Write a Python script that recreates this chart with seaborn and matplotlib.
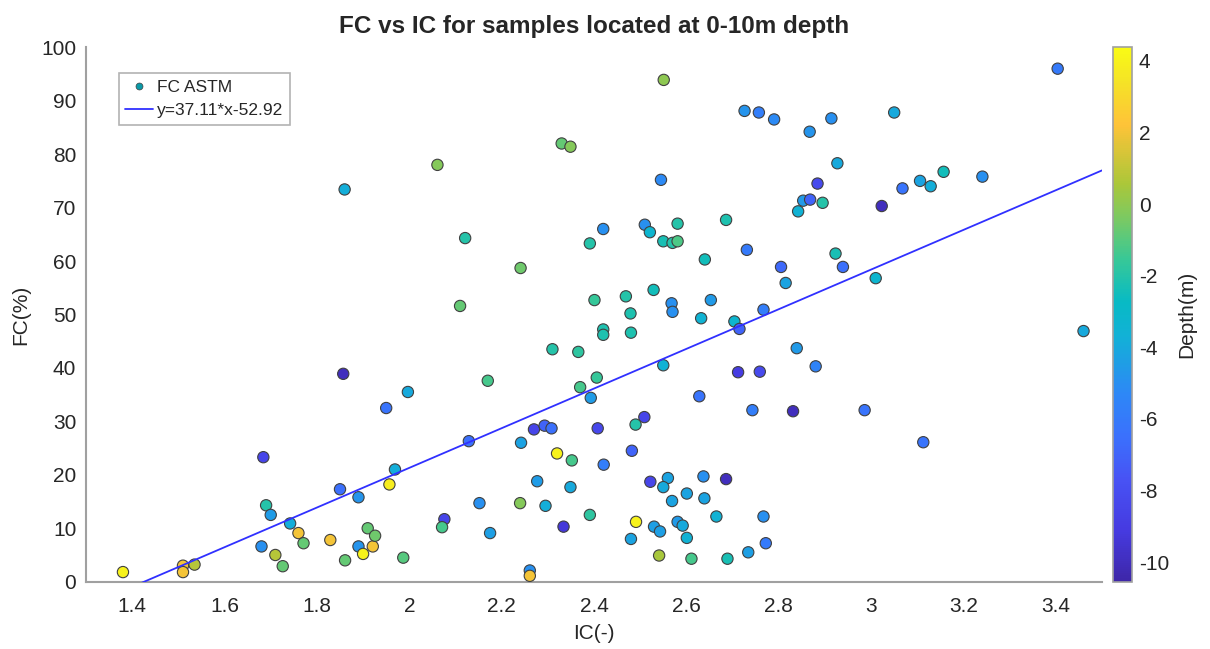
import numpy as np
import pandas as pd
import matplotlib
matplotlib.use("Agg")
import matplotlib.pyplot as plt
from matplotlib.colors import LinearSegmentedColormap, Normalize
from matplotlib.cm import ScalarMappable
from matplotlib.lines import Line2D
import seaborn as sns

# ---------------- data ----------------
ic = [1.38, 1.51, 1.51, 1.535, 1.684, 1.69, 1.70, 1.68, 1.71, 1.726,
      1.742, 1.76, 1.771, 1.829, 1.857, 1.85, 1.89, 1.861, 1.89, 1.90,
      1.921, 1.91, 1.926, 1.95, 1.969, 1.957, 1.86, 2.061, 2.33, 2.349,
      2.121, 2.42, 2.391, 2.241, 2.11, 2.401, 2.469, 2.479, 2.42, 2.42,
      2.48, 2.31, 2.366, 2.17, 1.997, 2.406, 2.37, 2.393, 2.129, 2.27,
      2.293, 2.308, 2.408, 2.242, 2.32, 2.352, 2.421, 2.509, 2.49, 2.482,
      2.277, 2.349, 2.152, 2.24, 2.295, 2.391, 2.076, 2.071, 2.334, 2.175,
      2.491, 2.48, 1.987, 2.261, 2.261, 2.551, 2.726, 2.757, 2.79, 2.914,
      2.867, 2.927, 2.545, 2.884, 2.853, 2.868, 2.895, 2.842, 3.023, 2.51,
      2.521, 2.581, 2.686, 2.55, 2.57, 2.581, 2.64, 2.731, 2.805, 2.939,
      2.923, 2.815, 3.01, 2.529, 2.568, 2.57, 2.653, 2.767, 2.632, 2.704,
      2.715, 2.839, 2.88, 2.55, 2.712, 2.759, 2.628, 2.743, 2.831, 2.986,
      2.522, 2.56, 2.55, 2.637, 2.686, 2.569, 2.601, 2.639, 2.665, 2.767,
      2.53, 2.543, 2.581, 2.592, 2.601, 2.541, 2.611, 2.689, 2.734, 2.772,
      3.404, 3.05, 3.241, 3.157, 3.106, 3.129, 3.068, 3.46, 3.113]

fc = [1.8, 3.0, 1.8, 3.2, 23.3, 14.3, 12.5, 6.6, 5.0, 2.9,
      10.9, 9.1, 7.2, 7.8, 38.9, 17.3, 15.8, 4.0, 6.6, 5.2,
      6.6, 10.0, 8.6, 32.5, 21.0, 18.2, 73.4, 78.0, 82.0, 81.4,
      64.3, 66.0, 63.3, 58.7, 51.6, 52.7, 53.4, 50.2, 47.2, 46.2,
      46.6, 43.5, 43.0, 37.6, 35.5, 38.2, 36.4, 34.4, 26.3, 28.5,
      29.2, 28.7, 28.7, 26.0, 24.0, 22.7, 21.9, 30.8, 29.4, 24.5,
      18.8, 17.7, 14.7, 14.7, 14.2, 12.5, 11.7, 10.2, 10.3, 9.1,
      11.2, 8.0, 4.5, 2.1, 1.1, 93.9, 88.1, 87.8, 86.5, 86.7,
      84.2, 78.3, 75.2, 74.5, 71.3, 71.5, 70.9, 69.3, 70.3, 66.8,
      65.4, 67.0, 67.7, 63.7, 63.4, 63.7, 60.3, 62.1, 58.9, 58.9,
      61.4, 55.9, 56.8, 54.6, 52.1, 50.5, 52.7, 50.9, 49.3, 48.7,
      47.3, 43.7, 40.3, 40.5, 39.2, 39.3, 34.7, 32.1, 31.9, 32.1,
      18.7, 19.4, 17.7, 19.7, 19.2, 15.1, 16.5, 15.6, 12.2, 12.2,
      10.3, 9.4, 11.2, 10.5, 8.2, 4.9, 4.3, 4.3, 5.5, 7.2,
      96.0, 87.8, 75.8, 76.7, 75.0, 74.0, 73.6, 46.9, 26.1]

depth = [4.0, 2.0, 2.0, 0.8, -8.5, -2.0, -4.5, -5.0, 0.8, -0.8,
         -3.8, 2.0, -0.8, 2.0, -10.0, -6.5, -4.8, -0.8, -4.8, 4.0,
         2.0, -0.8, -0.6, -6.3, -3.8, 3.8, -3.8, -0.2, -0.8, -0.2,
         -2.0, -5.0, -2.0, -0.6, -0.8, -1.6, -2.0, -2.2, -2.2, -2.2,
         -2.2, -2.0, -1.8, -1.3, -4.0, -1.6, -1.3, -4.5, -6.5, -8.5,
         -7.0, -6.5, -8.3, -4.3, 4.0, -1.3, -5.8, -8.5, -2.0, -7.0,
         -4.5, -4.0, -5.0, -0.2, -3.8, -1.8, -8.5, -1.3, -9.3, -4.4,
         4.0, -4.2, -1.0, -5.0, 2.0, 0.0, -4.8, -5.8, -5.2, -5.0,
         -4.8, -4.0, -5.2, -8.2, -4.6, -7.0, -2.0, -3.6, -10.0, -5.0,
         -3.3, -2.0, -2.2, -2.3, -2.0, -1.2, -2.5, -6.0, -6.8, -6.5,
         -2.3, -4.2, -3.3, -2.5, -5.0, -5.0, -4.6, -5.8, -3.5, -3.3,
         -7.0, -4.6, -5.5, -3.6, -9.0, -8.2, -6.3, -5.8, -10.0, -6.3,
         -8.5, -4.2, -4.0, -5.0, -10.0, -4.2, -4.2, -4.2, -3.6, -5.0,
         -4.4, -4.4, -4.6, -4.0, -3.6, 0.5, -1.3, -2.3, -4.4, -6.0,
         -6.0, -4.0, -5.0, -2.5, -4.2, -3.8, -6.3, -4.0, -6.3]

fit_slope = 37.11
fit_intercept = -52.92
fit_label = "y=37.11*x-52.92"
series_label = "FC ASTM"
title = "FC vs IC for samples located at 0-10m depth"
x_label = "IC(-)"
y_label = "FC(%)"
cbar_label = "Depth(m)"
x_ticks = [1.4, 1.6, 1.8, 2.0, 2.2, 2.4, 2.6, 2.8, 3.0, 3.2, 3.4]
x_ticklabels = ["1.4", "1.6", "1.8", "2", "2.2", "2.4", "2.6", "2.8", "3", "3.2", "3.4"]
y_ticks = [0, 10, 20, 30, 40, 50, 60, 70, 80, 90, 100]
cbar_ticks = [4, 2, 0, -2, -4, -6, -8, -10]

# ---------------- style ----------------
sns.set_theme(style="white")
plt.rcParams["font.family"] = ["Liberation Sans", "DejaVu Sans"]
plt.rcParams["axes.unicode_minus"] = False
TXT = "#262626"
AX = "#a0a0a0"

parula = LinearSegmentedColormap.from_list("parula", [
    (0.000, (0.2422, 0.1504, 0.6603)),
    (0.095, (0.2730, 0.2300, 0.8800)),
    (0.190, (0.2810, 0.3228, 0.9578)),
    (0.270, (0.2300, 0.4400, 0.9900)),
    (0.349, (0.1786, 0.5289, 0.9682)),
    (0.460, (0.0689, 0.6948, 0.8394)),
    (0.524, (0.0300, 0.7300, 0.7700)),
    (0.603, (0.2161, 0.7843, 0.5923)),
    (0.683, (0.4900, 0.7900, 0.3800)),
    (0.746, (0.6720, 0.7793, 0.2227)),
    (0.857, (0.9970, 0.7659, 0.2199)),
    (0.937, (0.9600, 0.8900, 0.1500)),
    (1.000, (0.9769, 0.9839, 0.0805)),
])
clim = (-10.55, 4.38)
norm = Normalize(*clim)

df = pd.DataFrame({"IC": ic, "FC": fc, "Depth": depth})

fig = plt.figure(figsize=(12.1, 6.49), dpi=100)
ax = fig.add_axes([86 / 1210, 1 - 581.7 / 649, 1016 / 1210, 534.4 / 649])
cax = fig.add_axes([1113 / 1210, 1 - 581.7 / 649, 19 / 1210, 534.4 / 649])

sns.scatterplot(data=df, x="IC", y="FC", hue="Depth", palette=parula,
                hue_norm=norm, s=66, edgecolor="#404040", linewidth=0.8,
                legend=False, ax=ax, zorder=3)

xfit = np.linspace(1.3, 3.5, 200)
yfit = fit_slope * xfit + fit_intercept
sns.lineplot(x=xfit, y=yfit, color="#3030ff", linewidth=1.3, ax=ax, zorder=4)

ax.set_xlim(1.3, 3.5)
ax.set_ylim(0, 100)
ax.set_xticks(x_ticks)
ax.set_xticklabels(x_ticklabels)
ax.set_yticks(y_ticks)
ax.tick_params(direction="in", length=5, width=1, color=AX,
               labelsize=15, labelcolor=TXT)
ax.tick_params(axis="x", pad=11)
ax.tick_params(axis="y", pad=7)
for side in ["top", "right"]:
    ax.spines[side].set_visible(False)
for side in ["left", "bottom"]:
    ax.spines[side].set_color(AX)
    ax.spines[side].set_linewidth(1.5)
ax.set_xlabel(x_label, fontsize=15, color=TXT, labelpad=6)
ax.set_ylabel(y_label, fontsize=15, color=TXT, labelpad=8)
ax.set_title(title, fontsize=17.5, fontweight="bold", color=TXT, pad=10)

handles = [Line2D([], [], linestyle="none", marker="o", markersize=5,
                  markerfacecolor="#0a9aa8", markeredgecolor="#404040",
                  markeredgewidth=0.5),
           Line2D([], [], color="#3030ff", linewidth=1.3)]
leg = ax.legend(handles, [series_label, fit_label], loc="upper left",
                bbox_to_anchor=(0.032, 0.952), borderaxespad=0, fontsize=12.5,
                frameon=True, fancybox=False, handlelength=1.6,
                handletextpad=0.2, borderpad=0.4, labelspacing=0.45)
leg.get_frame().set_edgecolor(AX)
leg.get_frame().set_linewidth(1.2)
for t in leg.get_texts():
    t.set_color(TXT)

sm = ScalarMappable(norm=norm, cmap=parula)
cb = fig.colorbar(sm, cax=cax)
cb.set_ticks(cbar_ticks)
cb.outline.set_edgecolor(AX)
cb.outline.set_linewidth(1.2)
cax.tick_params(direction="in", length=4, color=AX, labelsize=15,
                labelcolor=TXT, pad=5)
cb.set_label(cbar_label, fontsize=15, color=TXT, labelpad=6)

fig.savefig("out.png", dpi=100, facecolor="white")
